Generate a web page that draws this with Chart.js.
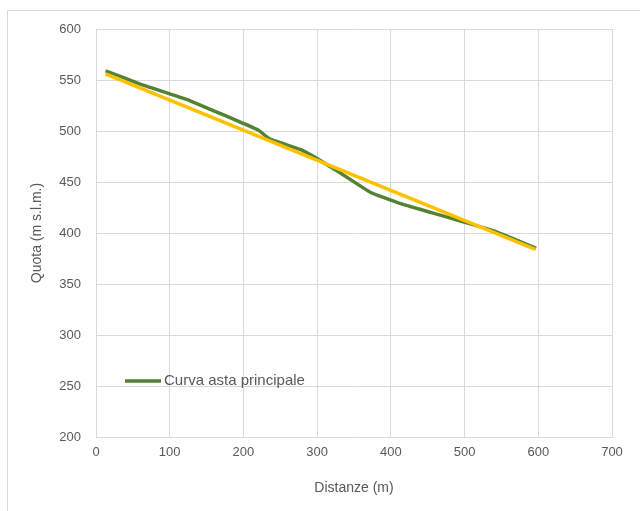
<!DOCTYPE html>
<html>
<head>
<meta charset="utf-8">
<script src="https://cdn.jsdelivr.net/npm/chart.js@4/dist/chart.umd.min.js"></script>
<style>
    html, body { margin: 0; padding: 0; background: #fff; overflow: hidden; }
    #wrap { position: relative; width: 640px; height: 511px; }
    #frame { position: absolute; left: 7px; top: 10px; width: 660px; height: 540px; border: 1px solid #d9d9d9; }
    canvas { position: absolute; left: 0; top: 0; }
</style>
</head>
<body>
<div id="wrap">
    <div id="frame"></div>
    <canvas id="profileChart" width="640" height="511"></canvas>
</div>
<script>
// profilo longitudinale asta principale
const distances = [13, 60, 123, 159, 192, 220, 236, 277, 300, 329, 372, 412, 455, 498, 540, 597];
const quota = [559, 546, 531, 520, 510, 501, 492, 482, 473, 460, 440, 429, 420, 411, 402, 385];

// linea di tendenza (estremi)
const trendX = [13, 596];
const trendY = [556, 384];

const seriesLabel = 'Curva asta principale';
const xTitle = 'Distanze (m)';
const yTitle = 'Quota (m s.l.m.)';

const textColor = '#595959';
const gridColor = '#d9d9d9';

const legendInside = {
    id: 'legendInside',
    afterDraw(chart) {
        const ctx = chart.ctx;
        const ds = chart.data.datasets[0];
        const y = 381;
        ctx.save();
        ctx.strokeStyle = ds.borderColor;
        ctx.lineWidth = 3.5;
        ctx.beginPath();
        ctx.moveTo(125, y);
        ctx.lineTo(161, y);
        ctx.stroke();
        ctx.fillStyle = textColor;
        ctx.font = '15px "Liberation Sans", Arial, sans-serif';
        ctx.textBaseline = 'middle';
        ctx.fillText(ds.label, 164, y);
        ctx.restore();
    }
};

function createChart() {
    const ctx = document.getElementById('profileChart').getContext('2d');

    new Chart(ctx, {
        type: 'line',
        data: {
            datasets: [
                {
                    label: seriesLabel,
                    data: distances.map((d, i) => ({ x: d, y: quota[i] })),
                    borderColor: '#548235',
                    borderWidth: 3.5,
                    pointRadius: 0,
                    tension: 0.1,
                    order: 1
                },
                {
                    label: 'Tendenza',
                    data: trendX.map((d, i) => ({ x: d, y: trendY[i] })),
                    borderColor: '#FFC000',
                    borderWidth: 3.5,
                    pointRadius: 0,
                    order: 0
                }
            ]
        },
        options: {
            responsive: false,
            animation: false,
            layout: { padding: { left: 0, top: 29, right: 28, bottom: 0 } },
            plugins: {
                legend: { display: false },
                tooltip: { enabled: false }
            },
            scales: {
                x: {
                    type: 'linear',
                    min: 0,
                    max: 700,
                    ticks: {
                        stepSize: 100,
                        color: textColor,
                        padding: 8,
                        font: { size: 13, family: '"Liberation Sans", Arial, sans-serif' }
                    },
                    grid: { color: gridColor, drawTicks: false },
                    border: { color: gridColor },
                    title: {
                        display: true,
                        text: xTitle,
                        color: textColor,
                        padding: { top: 0, bottom: 14 },
                        font: { size: 14, family: '"Liberation Sans", Arial, sans-serif' }
                    },
                    afterFit(scale) { scale.height = 74; }
                },
                y: {
                    min: 200,
                    max: 600,
                    ticks: {
                        stepSize: 50,
                        color: textColor,
                        padding: 15,
                        font: { size: 13, family: '"Liberation Sans", Arial, sans-serif' }
                    },
                    grid: { color: gridColor, drawTicks: false },
                    border: { color: gridColor },
                    title: {
                        display: true,
                        text: yTitle,
                        color: textColor,
                        padding: { top: 29, bottom: 0 },
                        font: { size: 14, family: '"Liberation Sans", Arial, sans-serif' }
                    },
                    afterFit(scale) { scale.width = 96; }
                }
            }
        },
        plugins: [legendInside]
    });
}

window.onload = createChart;
</script>
</body>
</html>
